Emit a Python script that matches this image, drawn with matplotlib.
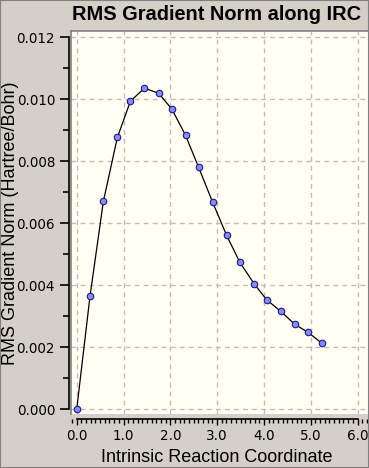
import numpy as np
import matplotlib
matplotlib.use('Agg')
import matplotlib.pyplot as plt
from matplotlib.ticker import MultipleLocator, FormatStrFormatter
from matplotlib.lines import Line2D
from matplotlib.patches import Rectangle

# IRC points
irc = [0.0, 0.285, 0.57, 0.869, 1.148, 1.448, 1.756, 2.034, 2.325, 2.604,
       2.904, 3.203, 3.486, 3.790, 4.060, 4.360, 4.660, 4.946, 5.238]
rms_grad = [0.0, 0.00366, 0.00671, 0.00877, 0.00994, 0.01036, 0.01019,
            0.00968, 0.00884, 0.00781, 0.00668, 0.00561, 0.00474, 0.00405,
            0.00353, 0.00316, 0.00274, 0.00248, 0.00213]

title = "RMS Gradient Norm along IRC"
xlabel = "Intrinsic Reaction Coordinate"
ylabel = "RMS Gradient Norm (Hartree/Bohr)"

W, H = 369, 468
bg = '#D4D0C8'
plotbg = '#FFFFF4'
tickfont = ['Liberation Sans Narrow', 'DejaVu Sans']
labelfont = ['Liberation Sans', 'DejaVu Sans']


def px(v):
    return v * 72 / 100  # pixels -> points


fig = plt.figure(figsize=(W / 100, H / 100), dpi=100, facecolor=bg)
ax = fig.add_axes([71 / W, 54 / H, 297 / W, 383 / H], facecolor=plotbg)

ax.plot(irc, rms_grad, color='black', lw=0.9, marker='o', ms=px(6.5),
        mfc='#8A8AF0', mec='#1A1A80', mew=0.8, zorder=3, clip_on=False)

ax.set_xlim(-0.122, 6.224)
ax.set_ylim(-0.000152, 0.012203)

ax.xaxis.set_major_locator(MultipleLocator(1.0))
ax.xaxis.set_minor_locator(MultipleLocator(0.1))
ax.yaxis.set_major_locator(MultipleLocator(0.002))
ax.yaxis.set_minor_locator(MultipleLocator(0.001))
ax.xaxis.set_major_formatter(FormatStrFormatter('%.1f'))
ax.yaxis.set_major_formatter(FormatStrFormatter('%.3f'))

ax.grid(True, which='major', color='#BDBDBD', lw=1.0, ls=(0, (3.5, 3)))

for s in ['top', 'right']:
    ax.spines[s].set_visible(False)
ax.spines['left'].set_position(('outward', px(2)))
ax.spines['left'].set_bounds(0, 0.012)
ax.spines['bottom'].set_position(('outward', px(5)))
ax.spines['bottom'].set_bounds(0, 6)
for s in ['left', 'bottom']:
    ax.spines[s].set_linewidth(1.2)
    ax.spines[s].set_color('black')

ax.tick_params(axis='y', which='major', direction='out', length=px(9), width=1.2, pad=px(5))
ax.tick_params(axis='y', which='minor', direction='out', length=px(6), width=1.2)
ax.tick_params(axis='x', which='major', direction='out', length=px(6), width=1.0, pad=px(4))
ax.tick_params(axis='x', which='minor', direction='out', length=px(3.5), width=1.0)
for lab in ax.get_xticklabels() + ax.get_yticklabels():
    lab.set_fontfamily(tickfont)
    lab.set_fontsize(px(13.5))

# sunken frame edges of the plot area
ax.add_line(Line2D([0, 0], [0, 1], transform=ax.transAxes, color='#808080', lw=1.2, clip_on=False))
ax.add_line(Line2D([0, 1], [1, 1], transform=ax.transAxes, color='#808080', lw=1.2, clip_on=False))

fig.text(361 / W, (H - 20) / H, title, ha='right', va='baseline',
         fontsize=px(20), fontweight='bold', family=labelfont)
fig.text(217 / W, (H - 462) / H, xlabel, ha='center', va='baseline',
         fontsize=px(18), family=labelfont)
fig.text(10.5 / W, (H - 223) / H, ylabel, ha='center', va='center', rotation=90,
         fontsize=px(18), family=labelfont)

# outer border of the window
fig.patches.append(Rectangle((0, 0), 1, 1, transform=fig.transFigure, fill=False,
                             edgecolor='#808080', lw=1.5))

fig.savefig('out.png', dpi=100, facecolor=bg)
